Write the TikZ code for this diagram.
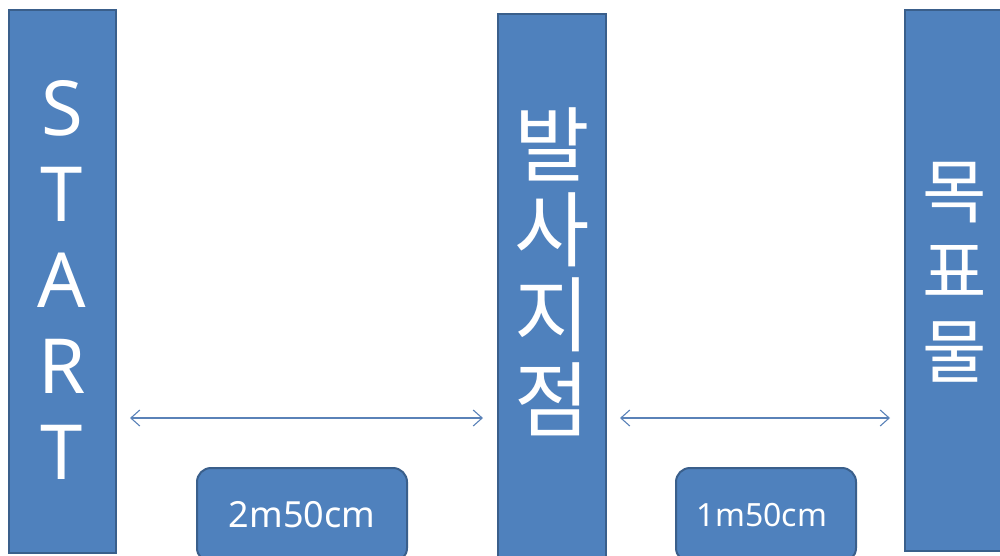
\documentclass[tikz,border=0pt]{standalone}
\usepackage{fontspec}
\setmainfont{Noto Sans}
\newfontfamily\kofont{Noto Sans CJK KR}
\usetikzlibrary{arrows.meta}
\definecolor{boxfill}{HTML}{4F81BD}
\definecolor{boxedge}{HTML}{3A5F8B}
\definecolor{arrowc}{HTML}{5A82B8}
\tikzset{
  bar/.style={draw=boxedge, fill=boxfill, line width=2pt, inner sep=0pt},
  tag/.style={draw=boxedge, fill=boxfill, line width=2pt, inner sep=0pt, rounded corners=14pt},
  wtext/.style={text=white, align=center, inner sep=0pt},
  dim/.style={draw=arrowc, line width=1.1pt, {Straight Barb[length=9pt,width=16pt]}-{Straight Barb[length=9pt,width=16pt]}}
}
\begin{document}
\begin{tikzpicture}[x=1pt,y=-1pt]
\useasboundingbox (0,0) rectangle (1000,555);
\begin{scope}
\clip (0,0) rectangle (1000,555);
\node[bar, minimum width=107pt, minimum height=543pt] (start) at (62.5,281.5) {};
\node[bar, minimum width=108pt, minimum height=550pt] (launch) at (552,289) {};
\node[bar, minimum width=112pt, minimum height=541pt] (target) at (961,280.5) {};
\node[tag, minimum width=210pt, minimum height=94pt] (d1) at (302,515) {};
\node[tag, minimum width=180pt, minimum height=94pt] (d2) at (766,515) {};
\end{scope}
\node[wtext, font={\fontsize{76}{86}\selectfont}] (starttxt) at (62,280) {S\\T\\A\\R\\T};
\node[wtext, font={\kofont\fontsize{82}{85}\selectfont}] (launchtxt) at (552,272) {발\\사\\지\\점};
\node[wtext, font={\kofont\fontsize{70}{80}\selectfont}] (targettxt) at (955,272) {목\\표\\물};
\node[wtext, font={\fontsize{36}{40}\selectfont}] (d1txt) at (d1) {2m50cm};
\node[wtext, font={\fontsize{32}{36}\selectfont}] (d2txt) at (762,515) {1m50cm};
\coordinate (ya) at (0,418);
\draw[dim, shorten <=13pt, shorten >=14pt] (start.east |- ya) -- (launch.west |- ya);
\draw[dim, shorten <=13pt, shorten >=14pt] (launch.east |- ya) -- (target.west |- ya);
\end{tikzpicture}
\end{document}
